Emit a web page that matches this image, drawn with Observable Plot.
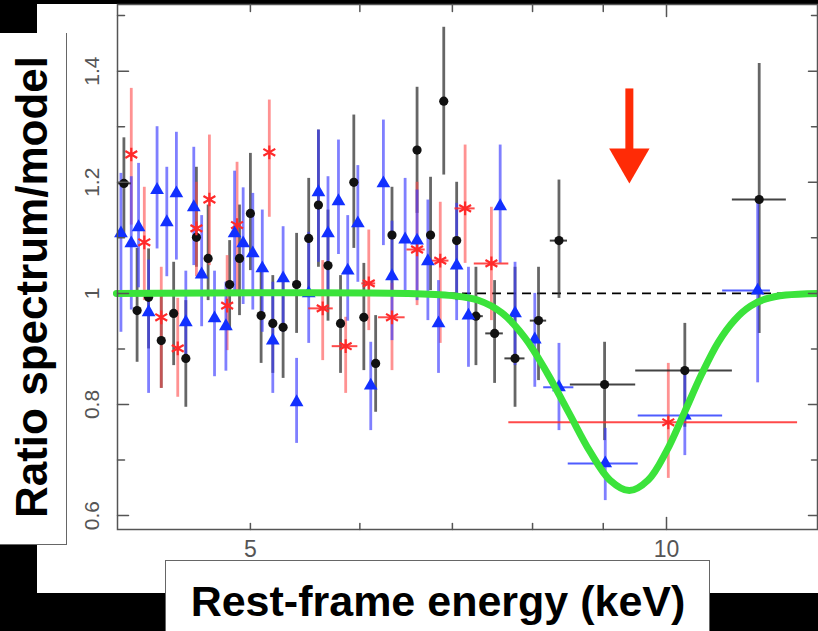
<!DOCTYPE html>
<html><head><meta charset="utf-8">
<script src="https://cdn.jsdelivr.net/npm/d3@7"></script>
<script src="https://cdn.jsdelivr.net/npm/@observablehq/plot@0.6"></script>
<style>
html,body{margin:0;padding:0;background:#000;}
#wrap{position:relative;width:818px;height:631px;background:#000;overflow:hidden;font-family:"Liberation Sans",Arial,Helvetica,sans-serif;}
#panel{position:absolute;left:37px;top:4px;width:781px;height:589px;background:#fff;}
#chart{position:absolute;left:0;top:0;}
#ybox{position:absolute;left:0;top:33px;width:66px;height:511px;background:#fff;border-right:1.5px solid #666;border-bottom:1.5px solid #666;}
#ylab{position:absolute;left:32px;top:254px;transform:translate(-50%,-50%) rotate(-90deg);white-space:nowrap;font-weight:bold;font-size:44px;line-height:1;color:#000;}
#xbox{position:absolute;left:165px;top:560px;width:543px;height:80px;background:#fff;border:1.5px solid #666;}
#xlab{position:absolute;left:272px;top:19px;transform:translateX(-50%);white-space:nowrap;font-weight:bold;font-size:43px;line-height:1;color:#000;}
</style></head>
<body>
<div id="wrap">
  <div id="panel"></div>
  <div id="chart"></div>
  <div id="ybox"><div id="ylab">Ratio spectrum/model</div></div>
  <div id="xbox"><div id="xlab">Rest-frame energy (keV)</div></div>
</div>
<script>
// ---- data: [energy keV, ratio, ratioLow, ratioHigh, energyLow, energyHigh] ----
const blackPts = [
  [4.05, 1.198, 1.10, 1.28, 4.01, 4.10],
  [4.14, 0.969, 0.876, 1.081],
  [4.22, 0.993, 0.90, 1.08],
  [4.31, 0.915, 0.829, 1.005],
  [4.40, 0.964, 0.870, 1.056],
  [4.49, 0.883, 0.795, 0.987],
  [4.57, 1.101, 1.047, 1.227],
  [4.66, 1.063, 0.987, 1.159],
  [4.83, 1.016, 0.933, 1.095],
  [4.91, 1.063, 0.960, 1.159],
  [5.00, 1.144, 1.041, 1.252],
  [5.09, 0.960, 0.874, 1.041],
  [5.19, 0.946, 0.856, 1.032],
  [5.28, 0.939, 0.847, 1.023],
  [5.40, 1.016, 0.928, 1.108],
  [5.51, 1.099, 1.005, 1.207],
  [5.60, 1.159, 1.047, 1.294],
  [5.69, 1.050, 0.950, 1.150],
  [5.81, 0.946, 0.856, 1.032],
  [5.94, 1.200, 1.081, 1.321],
  [6.04, 0.957, 0.861, 1.054],
  [6.16, 0.874, 0.786, 0.960],
  [6.33, 1.105, 1.005, 1.191],
  [6.60, 1.258, 1.144, 1.371],
  [6.75, 1.105, 1.005, 1.209],
  [6.90, 1.346, 1.213, 1.479],
  [7.05, 1.095, 0.987, 1.200],
  [7.28, 0.959, 0.870, 1.047, 7.19, 7.37],
  [7.51, 0.928, 0.838, 1.023, 7.40, 7.62],
  [7.77, 0.883, 0.795, 1.047, 7.64, 7.90],
  [8.08, 0.951, 0.843, 1.047, 7.97, 8.19],
  [8.36, 1.095, 0.991, 1.204, 8.24, 8.48],
  [9.02, 0.836, 0.735, 0.912, 8.52, 9.50],
  [10.31, 0.861, 0.759, 0.946, 9.50, 11.16],
  [11.67, 1.169, 0.928, 1.414, 11.16, 12.21]
];
const redPts = [
  [4.10, 1.250, 1.123, 1.369],
  [4.19, 1.092, 0.987, 1.191],
  [4.31, 0.957, 0.829, 1.047],
  [4.43, 0.901, 0.813, 0.991],
  [4.57, 1.117, 1.030, 1.200],
  [4.67, 1.169, 1.050, 1.285],
  [4.81, 0.978, 0.897, 1.068],
  [4.89, 1.123, 1.005, 1.236],
  [5.16, 1.254, 1.137, 1.348],
  [5.64, 0.973, 0.879, 1.059, 5.51, 5.74],
  [5.86, 0.905, 0.820, 0.957, 5.73, 5.98],
  [6.09, 1.018, 0.933, 1.114, 6.02, 6.16],
  [6.33, 0.957, 0.861, 1.018, 6.19, 6.47],
  [6.60, 1.079, 0.978, 1.200, 6.49, 6.69],
  [6.86, 1.059, 0.910, 1.164, 6.76, 6.96],
  [7.15, 1.153, 1.054, 1.267, 7.03, 7.27],
  [7.47, 1.054, 0.951, 1.155, 7.26, 7.69],
  [10.03, 0.768, 0.667, 0.874, 7.69, 12.44]
];
const bluePts = [
  [4.03, 1.108, 0.93, 1.216],
  [4.10, 1.090, 0.97, 1.21],
  [4.15, 1.119, 1.01, 1.234],
  [4.22, 0.966, 0.82, 1.06],
  [4.28, 1.186, 1.08, 1.30],
  [4.35, 1.128, 1.03, 1.227],
  [4.42, 1.180, 1.06, 1.29],
  [4.49, 0.948, 0.88, 1.04],
  [4.55, 1.155, 1.05, 1.263],
  [4.61, 1.034, 0.94, 1.14],
  [4.71, 0.955, 0.85, 1.04],
  [4.80, 0.941, 0.86, 1.02],
  [4.87, 1.108, 1.005, 1.22],
  [4.94, 1.090, 0.98, 1.19],
  [5.02, 1.072, 0.97, 1.18],
  [5.10, 1.045, 0.93, 1.15],
  [5.19, 0.915, 0.82, 1.02],
  [5.28, 1.027, 0.93, 1.12],
  [5.40, 0.804, 0.73, 0.883],
  [5.51, 1.000, 0.91, 1.11],
  [5.60, 1.182, 1.056, 1.294],
  [5.69, 1.108, 1.005, 1.21],
  [5.79, 1.166, 1.07, 1.276],
  [5.88, 1.041, 0.95, 1.14],
  [5.98, 1.126, 1.02, 1.23],
  [6.11, 0.834, 0.753, 0.912],
  [6.24, 1.198, 1.086, 1.312],
  [6.33, 1.031, 0.915, 1.13],
  [6.47, 1.097, 0.996, 1.207],
  [6.60, 1.095, 0.987, 1.186],
  [6.72, 1.058, 0.951, 1.168],
  [6.84, 0.946, 0.856, 1.023],
  [7.05, 1.050, 0.951, 1.162],
  [7.19, 0.960, 0.867, 1.047],
  [7.58, 1.157, 1.054, 1.267],
  [7.77, 0.964, 0.870, 1.056],
  [8.03, 0.917, 0.831, 1.000],
  [8.36, 0.831, 0.753, 0.910, 8.15, 8.57],
  [9.03, 0.694, 0.627, 0.757, 8.49, 9.54],
  [10.31, 0.780, 0.708, 0.856, 9.54, 10.98],
  [11.64, 1.005, 0.839, 1.170, 10.98, 11.89]
];
// model curve
const modelE = [4.0, 6.5, 7.0, 7.3, 7.6, 7.9, 8.2, 8.5, 8.8, 9.1, 9.4, 9.7, 10.0, 10.3, 10.6, 10.9, 11.2, 11.5, 11.8, 12.2, 12.86];
const modelR = [1.0, 1.0, 0.996, 0.988, 0.965, 0.920, 0.856, 0.785, 0.716, 0.664, 0.645, 0.664, 0.716, 0.785, 0.854, 0.912, 0.952, 0.977, 0.990, 0.997, 1.0];
// axis ticks
const xLabelTicks = [5, 10];
const xMinorTicks = [5, 6, 7, 8, 9];
const xMajorTicks = [10];
const yLabelTicks = [0.6, 0.8, 1, 1.2, 1.4];
const yMinorTicks = [0.7, 0.9, 1.1, 1.3, 1.5];
const refLine = [1];
// arrow annotation: energy, shaft top, head centre
const arrowE = [9.4];
const arrowTop = [1.368];
const arrowHead = [1.24];

const rows = pts => pts.map(([e, r, lo, hi, elo, ehi]) => ({e, r, lo, hi, elo, ehi}));
const black = rows(blackPts), red = rows(redPts), blue = rows(bluePts);
const model = modelE.map((e, i) => ({e, r: modelR[i]}));
const arrow = arrowE.map((e, i) => ({e, top: arrowTop[i], head: arrowHead[i]}));

const C = {black: "#111", red: "#ff2a2a", blue: "#1230ff", green: "#3be33b", arrow: "#ff2b06", axis: "#555"};

const tickShape = {draw(ctx, l) { ctx.moveTo(0, 0); ctx.lineTo(0, -l); }};
const tickMark = (data, side, len) => Plot.vector(data, {
  [side === "left" || side === "right" ? "y" : "x"]: d => d,
  frameAnchor: side,
  rotate: {left: 90, right: -90, bottom: 0, top: 180}[side],
  length: len, anchor: "start", shape: tickShape,
  stroke: C.axis, strokeWidth: 1.5
});
const triDown = {draw(ctx, size) {
  const y = Math.sqrt(size / (3 * Math.sqrt(3)));
  ctx.moveTo(0, 2 * y); ctx.lineTo(-Math.sqrt(3) * y, -y); ctx.lineTo(Math.sqrt(3) * y, -y); ctx.closePath();
}};

const errV = (data, color, op) => Plot.ruleX(data, {x: "e", y1: "lo", y2: "hi", stroke: color, strokeWidth: 2.8, strokeOpacity: op});
const errH = (data, color) => Plot.ruleY(data.filter(d => d.elo != null), {y: "r", x1: "elo", x2: "ehi", stroke: color, strokeWidth: 2, strokeOpacity: 0.85});

const chart = Plot.plot({
  width: 818, height: 631,
  marginLeft: 117, marginRight: 1, marginTop: 4, marginBottom: 102,
  style: {background: "transparent", fontFamily: "'Liberation Sans', Arial, sans-serif"},
  x: {type: "log", domain: [4.007, 12.86]},
  y: {domain: [0.575, 1.52]},
  marks: [
    Plot.ruleY(refLine, {stroke: "#000", strokeWidth: 1.6, strokeDasharray: "9,6"}),
    errV(black, "#333", 0.75), errV(red, "#ff4a4a", 0.6), errV(blue, "#3a3aff", 0.65),
    errH(black, "#222"), errH(red, "#ff2a2a"), errH(blue, "#3040ff"),
    Plot.dot(black, {x: "e", y: "r", r: 4.6, fill: C.black}),
    Plot.dot(red, {x: "e", y: "r", r: 6.5, symbol: "asterisk", stroke: C.red, strokeWidth: 2.2}),
    Plot.dot(blue, {x: "e", y: "r", r: 5.1, symbol: "triangle", fill: C.blue}),
    Plot.line(model, {x: "e", y: "r", stroke: C.green, strokeWidth: 7, curve: "catmull-rom"}),
    Plot.ruleX(arrow, {x: "e", y1: "top", y2: "head", stroke: C.arrow, strokeWidth: 8}),
    Plot.dot(arrow, {x: "e", y: "head", r: 15, symbol: triDown, fill: C.arrow, stroke: "none"}),
    Plot.frame({stroke: C.axis, strokeWidth: 1.5}),
    tickMark(xMinorTicks, "bottom", 6), tickMark(xMajorTicks, "bottom", 12),
    tickMark(xMinorTicks, "top", 7), tickMark(xMajorTicks, "top", 12),
    tickMark(yLabelTicks, "left", 11), tickMark(yMinorTicks, "left", 7),
    tickMark(yLabelTicks, "right", 9), tickMark(yMinorTicks, "right", 6),
    Plot.axisX(xLabelTicks, {anchor: "bottom", tickSize: 0, tickPadding: 11, fontSize: 23, color: C.axis, tickFormat: d => String(d)}),
    Plot.axisY(yLabelTicks, {anchor: "left", tickSize: 0, tickPadding: 19, tickRotate: -90, fontSize: 21, color: C.axis, tickFormat: d => String(d)})
  ]
});
document.getElementById("chart").appendChild(chart);
</script>
</body></html>
